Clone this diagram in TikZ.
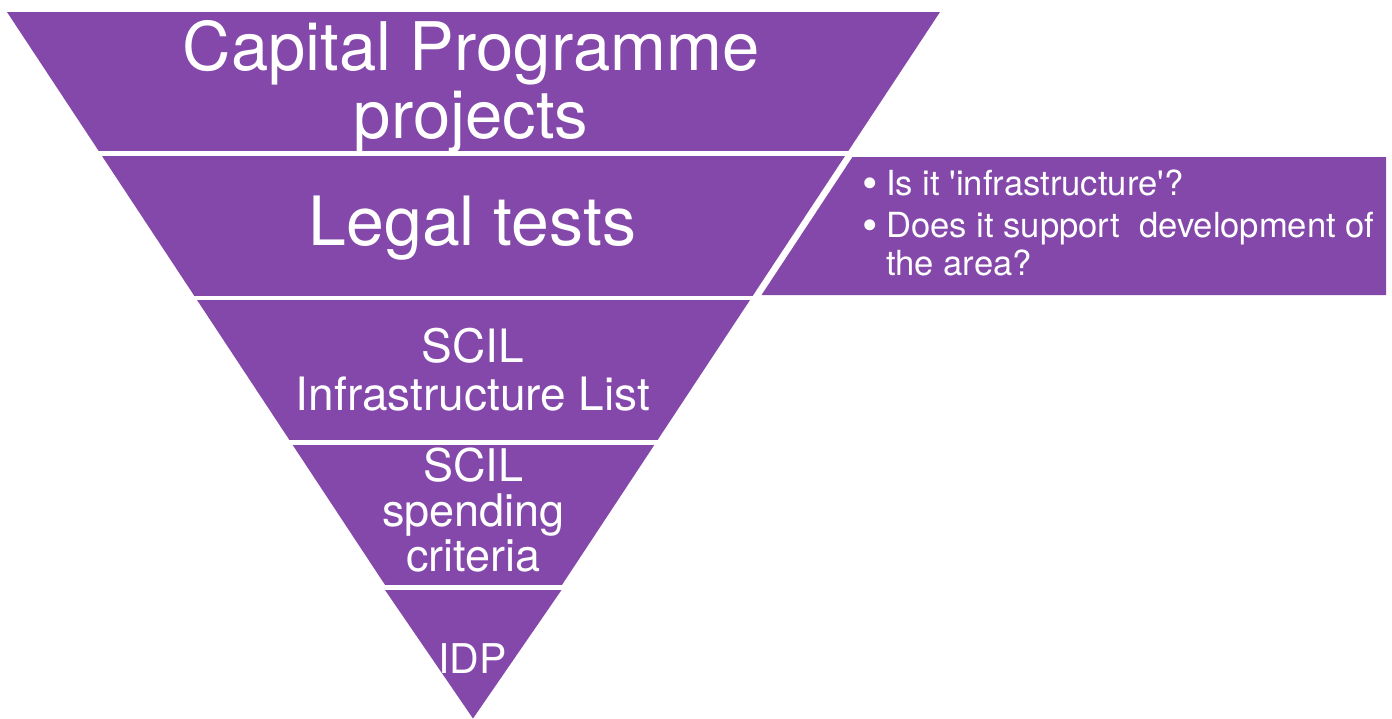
\documentclass[tikz,border=0pt]{standalone}
\usepackage{fontspec}
\newfontfamily\heros{TeX Gyre Heros}
\definecolor{pyr}{RGB}{132,72,170}
\newcommand{\bigdot}{\llap{\raisebox{-3pt}{\fontsize{44}{38}\selectfont\textbullet}\hspace{8pt}}}
\begin{document}
\begin{tikzpicture}[x=1pt,y=-1pt,
  lbl/.style={text=white,inner sep=0pt,align=center},
  band/.style={fill=pyr}]
\useasboundingbox (0,0) rectangle (1392,718);
% inverted pyramid, cut into bands by white gaps
\begin{scope}
  \clip (7,12) -- (940,12) -- (473.5,719) -- cycle;
  \fill[band] (0,12)  rectangle (1392,151);
  \fill[band] (0,156) rectangle (1392,296);
  \fill[band] (0,300) rectangle (1392,440);
  \fill[band] (0,445) rectangle (1392,585);
\end{scope}
\fill[band] (385,590) -- (561.5,590) -- (473,718.5) -- cycle;
% side box for legal tests
\fill[band] (852.5,157) -- (1386,157) -- (1386,295) -- (761.5,295) -- cycle;
% labels
\node[lbl,font=\heros\fontsize{67}{68}\selectfont] (cap) at (471,87) {Capital Programme\\projects};
\node[lbl,anchor=base,font=\heros\fontsize{68}{68}\selectfont] (legal) at (472.5,245) {Legal tests};
\node[lbl,font=\heros\fontsize{46}{48}\selectfont] (list) at (473,369.5) {SCIL\\Infrastructure List};
\node[lbl,font=\heros\fontsize{45}{45}\selectfont] (crit) at (473.5,510.5) {SCIL\\spending\\criteria};
\node[lbl,anchor=base,font=\heros\fontsize{41}{44}\selectfont] (idp) at (472.5,673) {IDP};
\node[lbl,align=left,anchor=north west,font=\heros\fontsize{34.6}{38}\selectfont] (tests) at (886,169.5)
  {\bigdot Is it 'infrastructure'?\\[4pt]
   \bigdot Does it support\ \ development of\\
   the area?};
\end{tikzpicture}
\end{document}
